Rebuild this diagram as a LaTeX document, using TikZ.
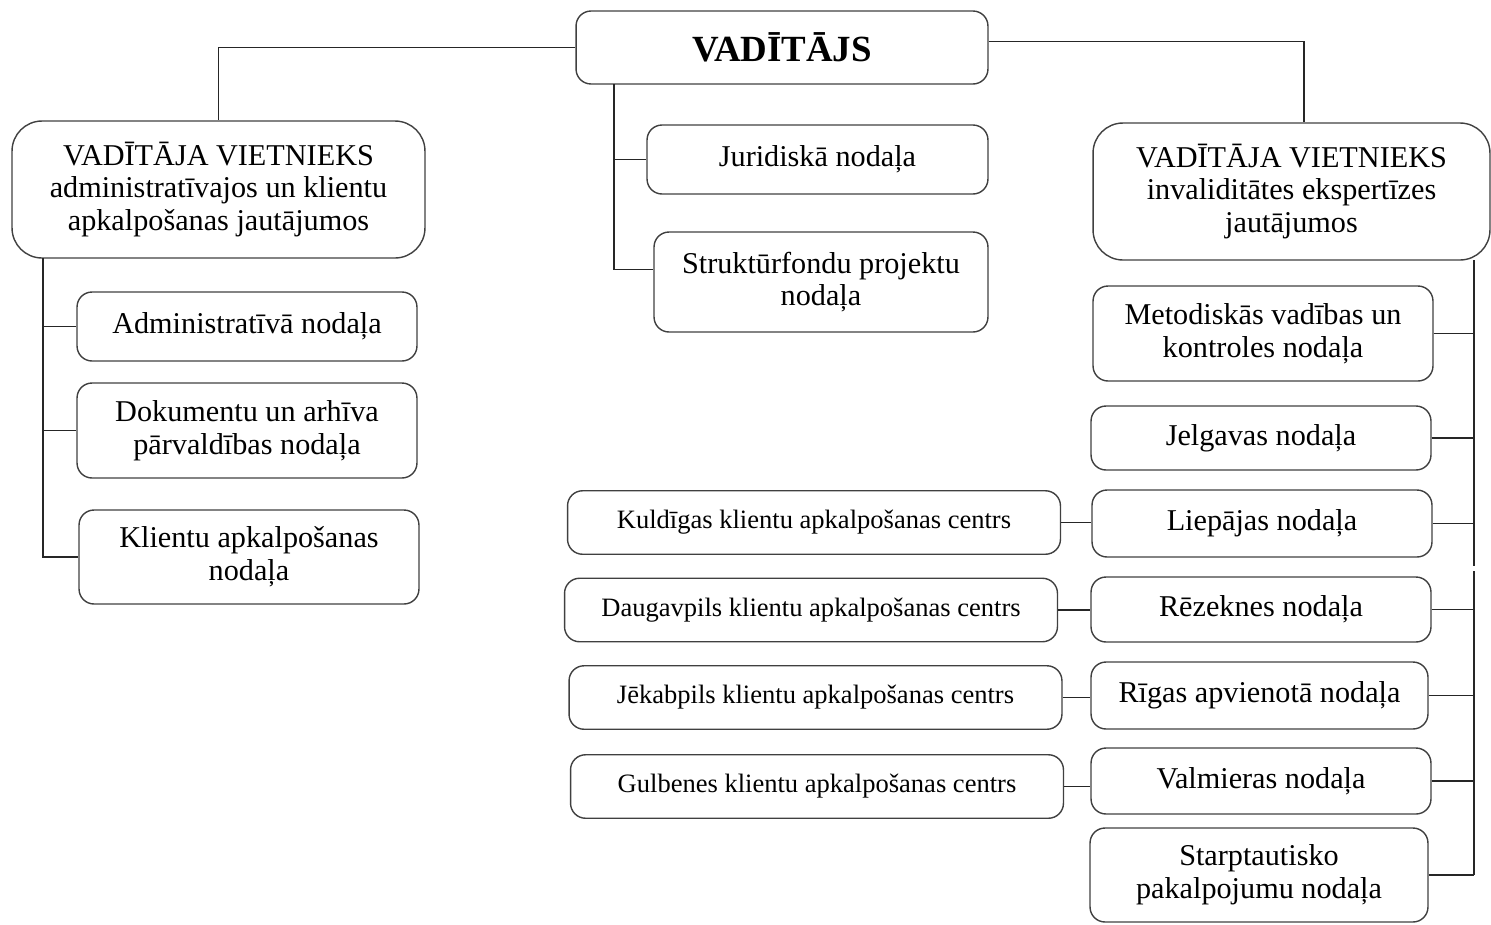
\documentclass[tikz,border=0pt]{standalone}
\usepackage{fontspec}
\setmainfont{Liberation Serif}
\begin{document}
\begin{tikzpicture}[x=0.02cm,y=-0.02cm,
  box/.style={rectangle, rounded corners=0.3cm, draw=black!75, line width=0.8pt, align=center, inner sep=0pt, font=\fontsize{17.2}{18.6}\selectfont},
  bossbox/.style={box, font=\fontsize{21}{24}\bfseries\selectfont},
  deputybox/.style={box, rounded corners=0.6cm},
  unitbox/.style={box, minimum width=6.8cm},
  centrebox/.style={box, font=\fontsize{15.1}{17}\selectfont, minimum width=9.86cm, minimum height=1.27cm},
  link/.style={line width=0.8pt, black!85}]
   \useasboundingbox (0,0) rectangle (1491,924);
   % top
   \draw (782,47.5) node[bossbox, minimum width=8.24cm, minimum height=1.46cm] (boss) {VADĪTĀJS};
   \draw (218.5,189.5) node[deputybox, minimum width=8.26cm, minimum height=2.74cm] (depL) {VADĪTĀJA VIETNIEKS\\administratīvajos un klientu\\apkalpošanas jautājumos};
   \draw (1291.5,191.5) node[deputybox, minimum width=7.94cm, minimum height=2.74cm] (depR) {VADĪTĀJA VIETNIEKS\\invaliditātes ekspertīzes\\jautājumos};
   \draw (817.5,159.5) node[unitbox, minimum width=6.82cm, minimum height=1.38cm] (jur) {Juridiskā nodaļa};
   \draw (821,282) node[unitbox, minimum width=6.68cm, minimum height=2cm] (str) {Struktūrfondu projektu\\nodaļa};
   % left
   \draw (247,326.5) node[unitbox, minimum height=1.38cm] (adm) {Administratīvā nodaļa};
   \draw (247,430.5) node[unitbox, minimum height=1.9cm] (dok) {Dokumentu un arhīva\\pārvaldības nodaļa};
   \draw (249,557) node[unitbox, minimum height=1.88cm] (kli) {Klientu apkalpošanas\\nodaļa};
   % right
   \draw (1263,333.5) node[unitbox, minimum height=1.9cm] (met) {Metodiskās vadības un\\kontroles nodaļa};
   \draw (1261,438) node[unitbox, minimum height=1.28cm] (jel) {Jelgavas nodaļa};
   \draw (1262,523.5) node[unitbox, minimum height=1.34cm] (lie) {Liepājas nodaļa};
   \draw (1261,609.5) node[unitbox, minimum height=1.3cm] (rez) {Rēzeknes nodaļa};
   \draw (1259.5,695.5) node[unitbox, minimum width=6.74cm, minimum height=1.34cm] (rig) {Rīgas apvienotā nodaļa};
   \draw (1261,781) node[unitbox, minimum height=1.32cm] (val) {Valmieras nodaļa};
   \draw (1259,875) node[unitbox, minimum width=6.76cm, minimum height=1.88cm] (sta) {Starptautisko\\pakalpojumu nodaļa};
   % centres
   \draw (814,522.5) node[centrebox] (kul) {Kuldīgas klientu apkalpošanas centrs};
   \draw (811,610) node[centrebox] (dau) {Daugavpils klientu apkalpošanas centrs};
   \draw (815.5,697.5) node[centrebox] (jek) {Jēkabpils klientu apkalpošanas centrs};
   \draw (817,786.5) node[centrebox] (gul) {Gulbenes klientu apkalpošanas centrs};
   % connectors
   \coordinate (bt) at (614,84);
   \coordinate (lt) at (43,258);
   \coordinate (rt) at (1474,260);
   \draw[link] (boss.west) -| (depL.north);
   \draw[link] ([yshift=0.12cm]boss.east) -| ([xshift=0.25cm]depR.north);
   \draw[link] (bt) |- ([yshift=0.25cm]str.west);
   \draw[link] (bt |- jur.west) -- (jur.west);
   \draw[link] (lt) |- (kli.west);
   \foreach \n in {adm,dok}
     \draw[link] (lt |- \n.west) -- (\n.west);
   \draw[link] (rt) -- (1474,566);
   \draw[link] (1474,571) -- (rt |- sta.east);
   \foreach \n in {met,jel,lie,rez,rig,val,sta}
     \draw[link] (\n.east) -- (rt |- \n.east);
   \draw[link] (kul.east) -- (kul.east -| lie.west);
   \draw[link] (dau.east) -- (dau.east -| rez.west);
   \draw[link] (jek.east) -- (jek.east -| rig.west);
   \draw[link] (gul.east) -- (gul.east -| val.west);
  \end{tikzpicture}
\end{document}
